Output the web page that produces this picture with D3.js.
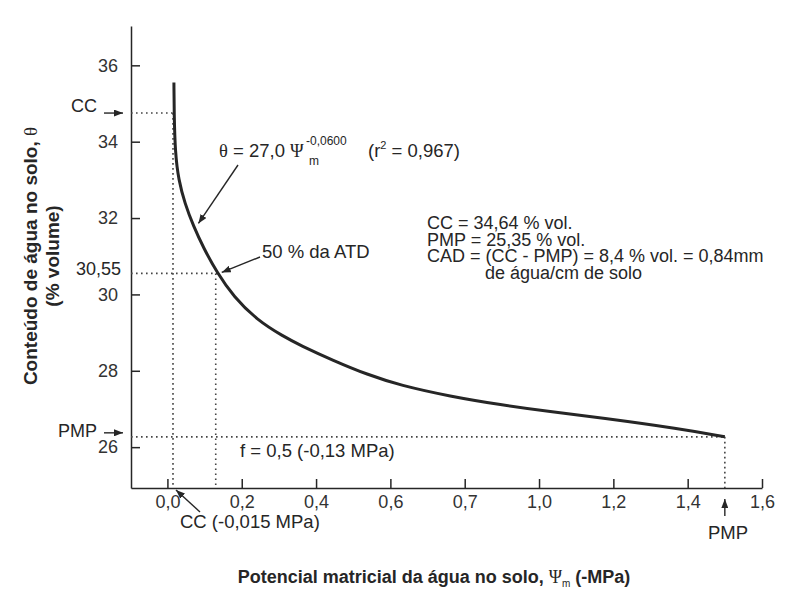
<!DOCTYPE html>
<html>
<head>
<meta charset="utf-8">
<script src="https://cdn.jsdelivr.net/npm/d3@7"></script>
<style>
body { margin: 0; background: #fff; }
svg { display: block; font-family: "Liberation Sans", Arial, sans-serif; }
</style>
</head>
<body>
<svg id="chart" width="788" height="589"></svg>
<script>
// retention curve: matric potential (-MPa) vs water content (% vol)
const psi   = [0.0175, 0.018, 0.021, 0.030, 0.047, 0.070, 0.097, 0.133, 0.178, 0.241, 0.312, 0.357, 0.446, 0.538, 0.626, 0.761, 0.896, 1.030, 1.165, 1.380, 1.500];
const theta = [35.55, 34.75, 33.70, 33.00, 32.38, 31.79, 31.22, 30.58, 29.94, 29.33, 28.90, 28.67, 28.27, 27.90, 27.62, 27.33, 27.11, 26.93, 26.77, 26.48, 26.27];

const xTicks = [0, 0.2, 0.4, 0.6, 0.8, 1.0, 1.2, 1.4, 1.6];
const xTickLabels = ["0,0", "0,2", "0,4", "0,6", "0,7", "1,0", "1,2", "1,4", "1,6"];
const yTicks = [26, 28, 30, 32, 34, 36];
const yTickLabels = ["26", "28", "30", "32", "34", "36"];

// reference levels
const ccPsi = 0.015, ccTheta = 34.75;
const pmpPsi = 1.5, pmpTheta = 26.27;
const halfPsi = 0.13, halfTheta = 30.55;

const infoLines = ["CC = 34,64 % vol.", "PMP = 25,35 % vol.", "CAD = (CC - PMP) = 8,4 % vol. = 0,84mm", "de água/cm de solo"];

const ink = "#262626";
const svg = d3.select("#chart");
svg.append("rect").attr("width", 788).attr("height", 589).attr("fill", "#fff");

const x = d3.scaleLinear().domain([-0.098, 1.6]).range([131, 762]);
const y = d3.scaleLinear().domain([24.93, 37.03]).range([488, 26]);

// arrowhead
svg.append("defs").append("marker")
	.attr("id", "arrow")
	.attr("markerUnits", "userSpaceOnUse")
	.attr("markerWidth", 10).attr("markerHeight", 7)
	.attr("refX", 9).attr("refY", 3.5)
	.attr("orient", "auto")
	.append("path")
	.attr("d", "M0,0L9,3.5L0,7z")
	.attr("fill", ink);

// axes
const axisY = d3.axisLeft(y)
	.tickValues(yTicks)
	.tickFormat((d, i) => yTickLabels[i])
	.tickSizeInner(-9)
	.tickSizeOuter(0)
	.tickPadding(13);

const axisX = d3.axisBottom(x)
	.tickValues(xTicks)
	.tickFormat((d, i) => xTickLabels[i])
	.tickSizeInner(-9)
	.tickSizeOuter(0)
	.tickPadding(7);

const gy = svg.append("g")
	.attr("transform", `translate(${x.range()[0]},0)`)
	.call(axisY);
const gx = svg.append("g")
	.attr("transform", `translate(0,${y.range()[0]})`)
	.call(axisX);

[gx, gy].forEach(g => {
	g.attr("font-family", null).attr("font-size", null);
	g.selectAll("path, line").attr("stroke", ink).attr("stroke-width", 1.5);
	g.selectAll("text").attr("fill", "#333").style("font-size", "18px");
});

// dotted guides
const guides = [
	[[x.domain()[0], ccTheta], [ccPsi, ccTheta]],
	[[ccPsi, ccTheta], [ccPsi, y.domain()[0]]],
	[[x.domain()[0], halfTheta], [halfPsi + 0.006, halfTheta]],
	[[halfPsi, halfTheta], [halfPsi, y.domain()[0]]],
	[[x.domain()[0], pmpTheta], [pmpPsi, pmpTheta]],
	[[pmpPsi, pmpTheta], [pmpPsi, y.domain()[0]]]
];
svg.append("g").selectAll("path")
	.data(guides)
	.join("path")
	.attr("d", d3.line().x(d => x(d[0])).y(d => y(d[1])))
	.attr("fill", "none")
	.attr("stroke", "#444")
	.attr("stroke-width", 1.6)
	.attr("stroke-dasharray", "1.6 3.4");

// curve
const pts = psi.map((p, i) => ({psi: p, theta: theta[i]}));
svg.append("path")
	.datum(pts)
	.attr("d", d3.line().x(d => x(d.psi)).y(d => y(d.theta)).curve(d3.curveBasis))
	.attr("fill", "none")
	.attr("stroke", ink)
	.attr("stroke-width", 3);

// helpers
function label(txt, px, py, opts = {}) {
	return svg.append("text")
		.attr("x", px).attr("y", py)
		.attr("fill", ink)
		.attr("text-anchor", opts.anchor || "start")
		.style("font-size", (opts.size || 18) + "px")
		.style("font-weight", opts.bold ? "bold" : null)
		.text(txt);
}
function arrow(x1, y1, x2, y2) {
	svg.append("line")
		.attr("x1", x1).attr("y1", y1).attr("x2", x2).attr("y2", y2)
		.attr("stroke", ink).attr("stroke-width", 1.4)
		.attr("marker-end", "url(#arrow)");
}

// left-side markers
label("CC", 97, y(ccTheta) - 1, {anchor: "end"});
arrow(104, y(ccTheta), 123, y(ccTheta));
label("PMP", 97, y(pmpTheta), {anchor: "end"});
arrow(104, y(pmpTheta) - 4, 123, y(pmpTheta) - 4);
label("30,55", 121, y(halfTheta) + 2, {anchor: "end"});

// bottom markers
label("CC (-0,015 MPa)", 180, 528, {size: 18.5});
arrow(200, 512, x(ccPsi) + 3, y.range()[0] + 2);
label("PMP", 708, 539, {size: 18.5});
arrow(x(pmpPsi), 516, x(pmpPsi), 499);

// equation
const eq = svg.append("text").attr("x", 219).attr("y", 157).attr("fill", ink).style("font-size", "18.5px");
eq.append("tspan").style("font-family", "'Liberation Serif', serif").text("θ");
eq.append("tspan").text(" = 27,0 ");
eq.append("tspan").style("font-family", "'Liberation Serif', serif").text("Ψ");
label("-0,0600", 306, 145, {size: 12});
label("m", 309, 165, {size: 12});
const r2 = svg.append("text").attr("x", 368).attr("y", 157).attr("fill", ink).style("font-size", "18.5px");
r2.append("tspan").text("(r");
r2.append("tspan").attr("dy", -8).style("font-size", "11px").text("2");
r2.append("tspan").attr("dy", 8).text(" = 0,967)");
arrow(238, 165, x(0.070) + 5, y(31.86));

label("50 % da ATD", 262, 258, {size: 18.5});
arrow(260, 257, x(halfPsi) + 6, y(halfTheta) - 1);

label("f = 0,5 (-0,13 MPa)", 240, 457, {size: 18.5});

// info block
svg.append("g").selectAll("text")
	.data(infoLines)
	.join("text")
	.attr("x", (d, i) => i === 3 ? 485 : 427)
	.attr("y", (d, i) => 229 + i * 16.7)
	.attr("fill", ink)
	.style("font-size", "18px")
	.text(d => d);

// axis titles
const yt = svg.append("text")
	.attr("transform", "translate(37,256) rotate(-90)")
	.attr("text-anchor", "middle")
	.attr("fill", ink)
	.style("font-size", "19px")
	.style("font-weight", "bold");
yt.append("tspan").text("Conteúdo de água no solo, ");
yt.append("tspan").style("font-family", "'Liberation Serif', serif").style("font-weight", "normal").text("θ");
svg.append("text")
	.attr("transform", "translate(59,256) rotate(-90)")
	.attr("text-anchor", "middle")
	.attr("fill", ink)
	.style("font-size", "19px")
	.style("font-weight", "bold")
	.text("(% volume)");

const xt = svg.append("text")
	.attr("x", 434).attr("y", 583)
	.attr("text-anchor", "middle")
	.attr("fill", ink)
	.style("font-size", "18px")
	.style("font-weight", "bold");
xt.append("tspan").text("Potencial matricial da água no solo, ");
xt.append("tspan").style("font-family", "'Liberation Serif', serif").style("font-weight", "normal").text("Ψ");
xt.append("tspan").attr("dy", 4).style("font-size", "10px").style("font-weight", "normal").text("m");
xt.append("tspan").attr("dy", -4).text(" (-MPa)");
</script>
</body>
</html>
